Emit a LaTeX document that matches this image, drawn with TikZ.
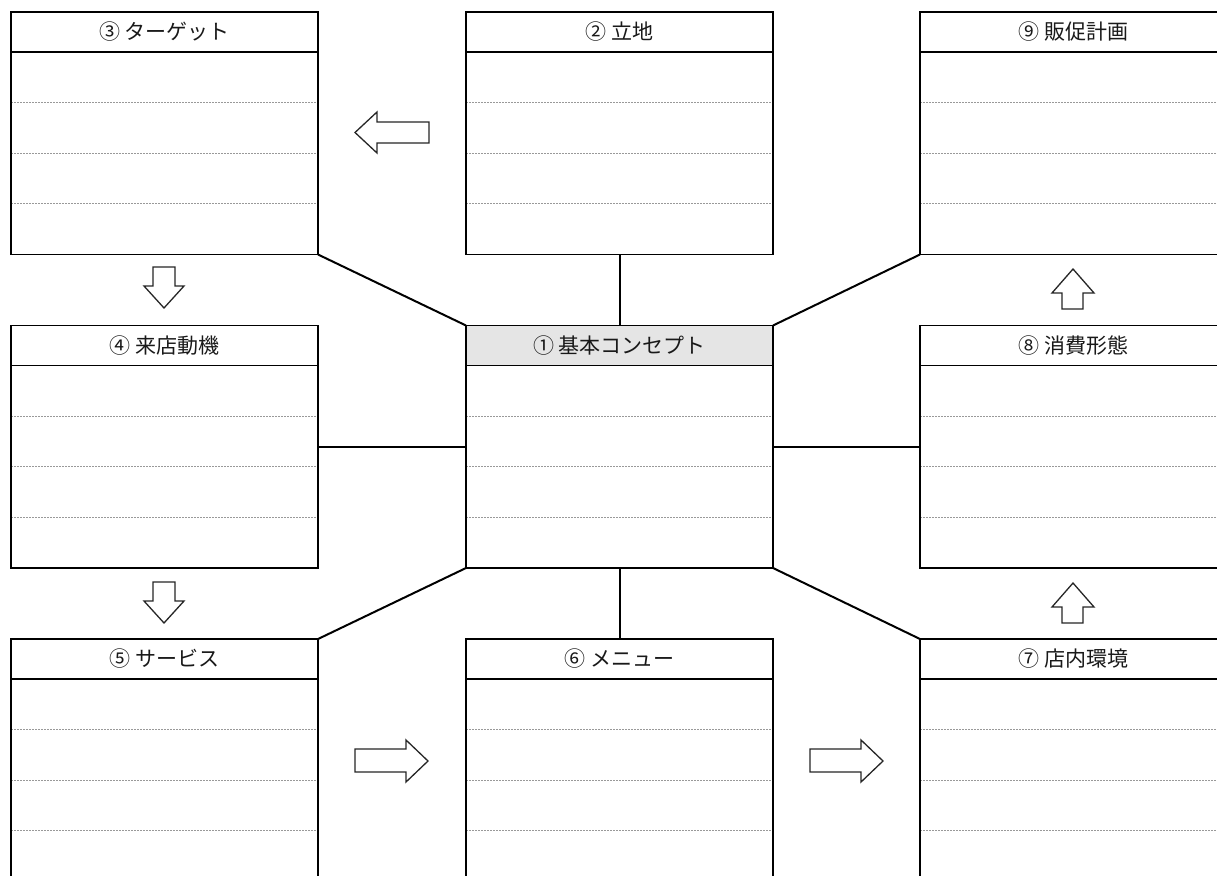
\documentclass[tikz,border=0pt]{standalone}
\usepackage{fontspec}
\newfontfamily\jp{Noto Sans CJK JP}
\begin{document}
\begin{tikzpicture}[x=1pt,y=-1pt,
  sheet/.style={draw=black, line width=1.8pt, minimum width=307pt, minimum height=242.5pt, inner sep=0pt, outer sep=0pt, anchor=north west},
  rulel/.style={draw=black!40, line width=0.8pt, dash pattern=on 2pt off 1pt},
  hdr/.style={draw=black, line width=1.3pt},
  blockarrow/.style={draw=black!85, line width=1.3pt, fill=white, line join=miter},
  link/.style={draw=black, line width=2pt},
  title/.style={font=\jp\fontsize{21}{22}\selectfont, text=black!90, inner sep=0pt}
]
\useasboundingbox (0,0) rectangle (1217,875);
\fill[white] (0,0) rectangle (1217,875);
\clip (0,0) rectangle (1217,875);

\newcommand\mysheet[5]{%
  \node[sheet] (#1) at (#2,#3) {};
  \fill[#5] (#1.north west) rectangle ([yshift=-40pt]#1.north east);
  \node[title] (#1t) at ([yshift=-20pt]#1.north) {#4};
  \draw[hdr] ([yshift=-40pt]#1.north west) -- ([yshift=-40pt]#1.north east);
  \foreach \k in {1,2,3} {\draw[rulel] ([yshift={-40pt-50.5pt*\k}]#1.north west) -- ([yshift={-40pt-50.5pt*\k}]#1.north east);}
  \draw[line width=1.8pt] (#1.north west) rectangle (#1.south east);
}

\mysheet{b3}{11}{12}{③ ターゲット}{white}
\mysheet{b2}{466}{12}{② 立地}{white}
\mysheet{b9}{920}{12}{⑨ 販促計画}{white}
\mysheet{b4}{11}{325.5}{④ 来店動機}{white}
\mysheet{b1}{466}{325.5}{① 基本コンセプト}{black!10}
\mysheet{b8}{920}{325.5}{⑧ 消費形態}{white}
\mysheet{b5}{11}{639}{⑤ サービス}{white}
\mysheet{b6}{466}{639}{⑥ メニュー}{white}
\mysheet{b7}{920}{639}{⑦ 店内環境}{white}

% connectors
\draw[link] (b3.south east) -- (b1.north west);
\draw[link] (b2.south) -- (b1.north);
\draw[link] (b9.south west) -- (b1.north east);
\draw[link] (b4.east) -- (b1.west);
\draw[link] (b8.west) -- (b1.east);
\draw[link] (b1.south west) -- (b5.north east);
\draw[link] (b1.south) -- (b6.north);
\draw[link] (b1.south east) -- (b7.north west);

% block arrows
% left arrow
\draw[blockarrow] (355,132.5) -- (377,112) -- (377,122) -- (429,122) -- (429,143) -- (377,143) -- (377,153) -- cycle;
% down arrows
\foreach \dy in {0,315} {
  \draw[blockarrow] (153,267+\dy) -- (175,267+\dy) -- (175,286+\dy) -- (184,286+\dy) -- (164,308+\dy) -- (144,286+\dy) -- (153,286+\dy) -- cycle;
}
% up arrows
\foreach \dy in {0,-314} {
  \draw[blockarrow] (1073,583+\dy) -- (1094,607+\dy) -- (1083,607+\dy) -- (1083,623+\dy) -- (1062,623+\dy) -- (1062,607+\dy) -- (1052,607+\dy) -- cycle;
}
% right arrows
\foreach \dx in {0,455} {
  \draw[blockarrow] (355+\dx,749) -- (406+\dx,749) -- (406+\dx,740) -- (428+\dx,761) -- (406+\dx,782) -- (406+\dx,772) -- (355+\dx,772) -- cycle;
}
\end{tikzpicture}
\end{document}
